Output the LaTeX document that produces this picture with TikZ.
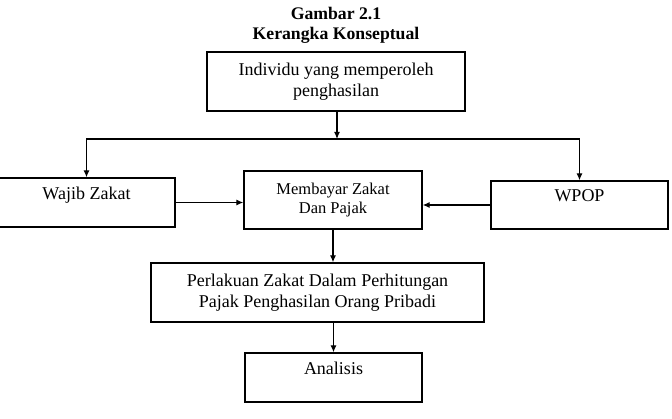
\documentclass[tikz,border=0pt]{standalone}
\usepackage{fontspec}
\setmainfont{Liberation Serif}
\usetikzlibrary{arrows.meta}

\begin{document}
\begin{tikzpicture}[x=1pt, y=-1pt, auto, line width=1.2pt, >={Latex[length=7pt,width=6pt]}]
        \tikzstyle{block} = [rectangle, draw, line width=1.3pt, inner sep=0pt, text centered, align=center, font=\fontsize{18}{21}\selectfont]
        \tikzstyle{upper} = [text depth=18pt]
        \useasboundingbox (0,0) rectangle (672,419);
        \node[font=\bfseries\fontsize{17.7}{20}\selectfont, align=center] (title) at (336,25) {Gambar 2.1\\Kerangka Konseptual};
        \node[block, minimum width=258, minimum height=59] (individu) at (336,81.5) {Individu yang memperoleh\\penghasilan};
        \node[block, upper, minimum width=177, minimum height=49] (wajib) at (86.5,202.5) {Wajib Zakat};
        \node[block, minimum width=178, minimum height=58, font=\fontsize{16.5}{19}\selectfont] (membayar) at (333,200) {Membayar Zakat\\Dan Pajak};
        \node[block, upper, minimum width=177, minimum height=48] (wpop) at (579.5,205) {WPOP};
        \node[block, minimum width=333, minimum height=59] (perlakuan) at (317.5,292.5) {Perlakuan Zakat Dalam Perhitungan\\Pajak Penghasilan Orang Pribadi};
        \node[block, upper, minimum width=177, minimum height=49] (analisis) at (333.5,377.5) {Analisis};
        \coordinate (split) at (337,139);
        \draw[->] (individu.south -| split) -- (split);
        \draw[->] (split) -| (wajib);
        \draw[->] (split) -| (wpop);
        \draw[->] (wajib) -- (wajib -| membayar.west);
        \draw[->] (wpop) -- (wpop -| membayar.east);
        \draw[->] (membayar) -- (membayar |- perlakuan.north);
        \draw[->] (perlakuan.south -| analisis) -- (analisis);
    \end{tikzpicture}
\end{document}
